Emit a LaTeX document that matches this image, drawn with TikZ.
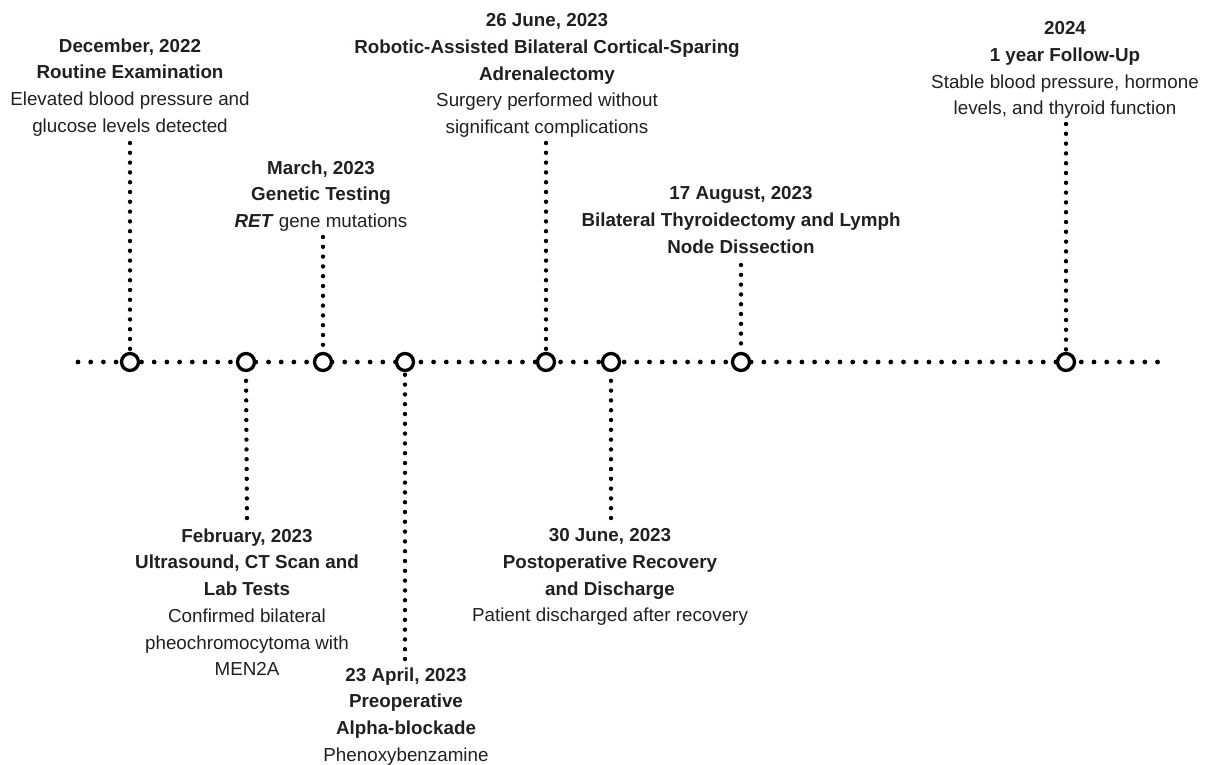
\documentclass[tikz,border=0pt]{standalone}
\usepackage{fontspec}
\setmainfont{Liberation Sans}
\definecolor{ink}{HTML}{231F20}
\begin{document}
\begin{tikzpicture}[x=1pt,y=-1pt,
  hdots/.style={draw=black, line width=4.8pt, line cap=round, dash pattern=on 0pt off 12.7pt},
  vdots/.style={draw=black, line width=4.4pt, line cap=round, dash pattern=on 0pt off 9.8pt},
  marker/.style={circle, draw=black, line width=3.3pt, fill=white, minimum size=17pt, inner sep=0pt},
  evt/.style={align=center, inner sep=0pt, anchor=north, text=ink, font=\fontsize{18.8}{26.7}\selectfont}]
\useasboundingbox (0,0) rectangle (1206,764);

% timeline
\coordinate (L) at (78,362);
\coordinate (R) at (1168,362);
\draw[hdots] (L) -- (R);

% stem ends
\coordinate (c1) at (130,143);
\coordinate (c2) at (247,518);
\coordinate (c3) at (323,237);
\coordinate (c4) at (405,659);
\coordinate (c5) at (546,143);
\coordinate (c6) at (611,518);
\coordinate (c7) at (741,265);
\coordinate (c8) at (1066,124);

% markers
\node[marker] (m1) at (130,362) {};
\node[marker] (m2) at (246,362) {};
\node[marker] (m3) at (323,362) {};
\node[marker] (m4) at (405,362) {};
\node[marker] (m5) at (546,362) {};
\node[marker] (m6) at (611,362) {};
\node[marker] (m7) at (741,362) {};
\node[marker] (m8) at (1066,362) {};

% stems, from free end to marker
\draw[vdots] (c1) -- (m1.north);
\draw[vdots] (c2) -- (m2.south);
\draw[vdots] (c3) -- (m3.north);
\draw[vdots] (c4) -- (m4.south);
\draw[vdots] (c5) -- (m5.north);
\draw[vdots] (c6) -- (m6.south);
\draw[vdots] (c7) -- (m7.north);
\draw[vdots] (c8) -- (m8.north);

% texts
\node[evt] (t1) at (130,38.4) {\textbf{December, 2022}\\\textbf{Routine Examination}\\Elevated blood pressure and\\glucose levels detected};
\node[evt] (t2) at (247,528.4) {\textbf{February, 2023}\\\textbf{Ultrasound, CT Scan and}\\\textbf{Lab Tests}\\Confirmed bilateral\\pheochromocytoma with\\MEN2A};
\node[evt] (t3) at (321,160.4) {\textbf{March, 2023}\\\textbf{Genetic Testing}\\\textbf{\textit{RET}} gene mutations};
\node[evt] (t4) at (406,667.4) {\textbf{23 April, 2023}\\\textbf{Preoperative}\\\textbf{Alpha-blockade}\\Phenoxybenzamine};
\node[evt] (t5) at (547,13.4) {\textbf{26 June, 2023}\\\textbf{Robotic-Assisted Bilateral Cortical-Sparing}\\\textbf{Adrenalectomy}\\Surgery performed without\\significant complications};
\node[evt] (t6) at (610,528.4) {\textbf{30 June, 2023}\\\textbf{Postoperative Recovery}\\\textbf{and Discharge}\\Patient discharged after recovery};
\node[evt] (t7) at (741,186.4) {\textbf{17 August, 2023}\\\textbf{Bilateral Thyroidectomy and Lymph}\\\textbf{Node Dissection}};
\node[evt] (t8) at (1065,21.4) {\textbf{2024}\\\textbf{1 year Follow-Up}\\Stable blood pressure, hormone\\levels, and thyroid function};
\end{tikzpicture}
\end{document}
